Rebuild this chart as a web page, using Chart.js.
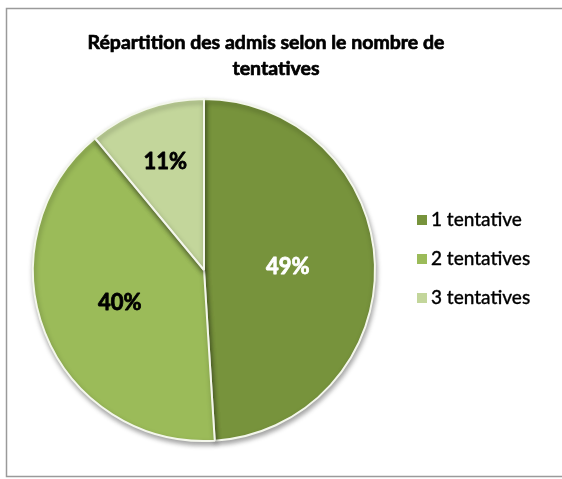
<!DOCTYPE html>
<html><head><meta charset="utf-8">
<script src="https://cdn.jsdelivr.net/npm/chart.js@4/dist/chart.umd.min.js"></script>
<style>html,body{margin:0;padding:0;background:#fff}#c{display:block}</style>
</head><body>
<canvas id="c" width="562" height="479"></canvas>
<script>
const titleLines = ["Répartition des admis selon le nombre de", "tentatives"];
const categories = ["1 tentative", "2 tentatives", "3 tentatives"];
const values = [49, 40, 11];
const sliceColors = ["#77933C", "#9BBB59", "#C3D69B"];
const labelColors = ["#ffffff", "#000000", "#000000"];
const labelRadius = [0.49, 0.53, 0.67];
const FONT = "Lato, 'Open Sans', sans-serif";

function heavyText(ctx, txt, x, y, color, w) {
  ctx.fillStyle = color;
  ctx.strokeStyle = color;
  ctx.lineWidth = w;
  ctx.lineJoin = 'round';
  ctx.strokeText(txt, x, y);
  ctx.fillText(txt, x, y);
}

const deco = {
  id: 'deco',
  beforeDraw(chart) {
    const ctx = chart.ctx;
    ctx.save();
    ctx.fillStyle = '#fff';
    ctx.fillRect(0, 0, chart.width, chart.height);
    ctx.strokeStyle = '#9a9a9a';
    ctx.lineWidth = 1.5;
    ctx.strokeRect(6.5, 8.5, 620, 468);
    // title
    ctx.font = "bold 19.5px " + FONT;
    ctx.textAlign = 'center';
    ctx.textBaseline = 'middle';
    heavyText(ctx, titleLines[0], 266, 43, '#000', 0.7);
    heavyText(ctx, titleLines[1], 276, 69, '#000', 0.7);
    // legend
    ctx.font = "500 19px " + FONT;
    ctx.textAlign = 'left';
    const ys = [220, 259, 298];
    chart.data.labels.forEach((l, i) => {
      ctx.fillStyle = sliceColors[i];
      ctx.fillRect(417, ys[i] - 5, 10, 10);
      heavyText(ctx, l, 431, ys[i], '#000', 0.3);
    });
    ctx.restore();
  },
  beforeDatasetDraw(chart) {
    const ctx = chart.ctx;
    ctx.save();
    ctx.shadowColor = 'rgba(0,0,0,0.35)';
    ctx.shadowBlur = 5;
    ctx.shadowOffsetX = 1;
    ctx.shadowOffsetY = 3;
  },
  afterDatasetDraw(chart) {
    chart.ctx.restore();
  },
  afterDatasetsDraw(chart) {
    const ctx = chart.ctx;
    const meta = chart.getDatasetMeta(0);
    ctx.save();
    ctx.font = "bold 22px " + FONT;
    ctx.textAlign = 'center';
    ctx.textBaseline = 'middle';
    meta.data.forEach((arc, i) => {
      const mid = (arc.startAngle + arc.endAngle) / 2;
      const r = arc.outerRadius * labelRadius[i];
      heavyText(ctx, values[i] + '%', arc.x + Math.cos(mid) * r, arc.y + Math.sin(mid) * r, labelColors[i], 0.8);
    });
    ctx.restore();
  }
};

new Chart(document.getElementById('c'), {
  type: 'pie',
  data: {
    labels: categories,
    datasets: [{
      data: values,
      backgroundColor: sliceColors,
      borderColor: '#f4f7ec',
      borderWidth: 2,
      hoverOffset: 0
    }]
  },
  options: {
    responsive: false,
    animation: false,
    events: [],
    layout: { padding: { left: 32, right: 186, top: 98, bottom: 37 } },
    plugins: { legend: { display: false }, title: { display: false }, tooltip: { enabled: false } }
  },
  plugins: [deco]
});
</script>
</body></html>
